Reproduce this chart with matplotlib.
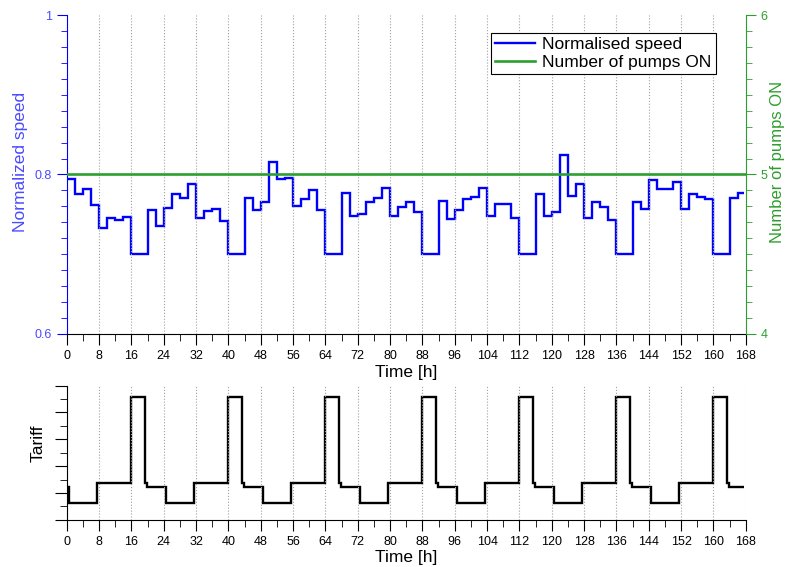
import matplotlib
matplotlib.use("Agg")
import matplotlib.pyplot as plt
from matplotlib.ticker import MultipleLocator

plt.rcParams['font.family'] = ['Liberation Sans', 'DejaVu Sans']

# Normalised speed, 2 h steps
speed_edges = [0, 2, 4, 6, 8, 10, 12, 14, 16, 20, 22, 24, 26, 28, 30, 32, 34, 36, 38, 40,
               44, 46, 48, 50, 52, 54, 56, 58, 60, 62, 64, 68, 70, 72, 74, 76, 78, 80,
               82, 84, 86, 88, 92, 94, 96, 98, 100, 102, 104, 106, 110, 112, 116, 118,
               120, 122, 124, 126, 128, 130, 132, 134, 136, 140, 142, 144, 146, 150,
               152, 154, 156, 158, 160, 164, 166, 167.5]
speed = [0.794, 0.776, 0.782, 0.762, 0.733, 0.745, 0.743, 0.747, 0.700, 0.756, 0.736,
         0.758, 0.776, 0.771, 0.788, 0.745, 0.754, 0.757, 0.742, 0.700,
         0.770, 0.756, 0.766, 0.816, 0.794, 0.796, 0.761, 0.769, 0.780, 0.756, 0.700,
         0.777, 0.748, 0.751, 0.766, 0.771, 0.783,
         0.748, 0.759, 0.766, 0.753, 0.700, 0.767, 0.744, 0.756, 0.769, 0.772, 0.783,
         0.748, 0.763, 0.745, 0.700, 0.776, 0.748,
         0.753, 0.825, 0.773, 0.788, 0.746, 0.765, 0.759, 0.743, 0.700, 0.766, 0.757,
         0.793, 0.782, 0.791, 0.757, 0.776, 0.772, 0.769, 0.700, 0.771, 0.777]

pumps_t = [0, 168]
pumps_on = [5, 5]

# Tariff profile
tariff_edges = [0, 0.5, 7.5, 16, 19.25, 19.75,
                24.5, 31.5, 40, 43.25, 43.75,
                48.5, 55.5, 64, 67.25, 67.75,
                72.5, 79.5, 88, 91.25, 91.75,
                96.5, 103.5, 112, 115.25, 115.75,
                120.5, 127.5, 136, 139.25, 139.75,
                144.5, 151.5, 160, 163.25, 163.75, 167.5]
tariff = [1.22,
          0.62, 1.37, 4.56, 1.37, 1.22,
          0.62, 1.37, 4.56, 1.37, 1.22,
          0.62, 1.37, 4.56, 1.37, 1.22,
          0.62, 1.37, 4.56, 1.37, 1.22,
          0.62, 1.37, 4.56, 1.37, 1.22,
          0.62, 1.37, 4.56, 1.37, 1.22,
          0.62, 1.37, 4.56, 1.37, 1.22]

xticks = list(range(0, 169, 8))

blue = '#0000ff'
lblue = '#4a4aff'
green = '#2e9e2e'

fig = plt.figure(figsize=(7.85, 5.67), dpi=100)
ax1 = fig.add_axes([0.085, 0.411, 0.865, 0.5625])
ax2 = ax1.twinx()
ax3 = fig.add_axes([0.085, 0.0834, 0.865, 0.2364])

# top plot
ax1.stairs(speed, speed_edges, baseline=None, color=blue, lw=1.7, label='Normalised speed')
ax2.plot(pumps_t, pumps_on, color=green, lw=1.9, label='Number of pumps ON')
ax1.set_xlim(0, 168)
ax1.set_ylim(0.6, 1.0)
ax2.set_ylim(4, 6)
ax1.set_xticks(xticks)
ax1.xaxis.set_minor_locator(MultipleLocator(4))
ax1.set_yticks([0.6, 0.8, 1.0])
ax1.set_yticklabels(['0.6', '0.8', '1'])
ax1.yaxis.set_minor_locator(MultipleLocator(0.02))
ax2.set_yticks([4, 5, 6])
ax2.yaxis.set_minor_locator(MultipleLocator(0.1))
ax1.grid(axis='x', which='major', linestyle=':', color='#a0a0a0', lw=0.8)

for s in ['top', 'right']:
    ax1.spines[s].set_visible(False)
for s in ['top', 'left', 'bottom']:
    ax2.spines[s].set_visible(False)
ax1.spines['left'].set_color(blue)
ax2.spines['right'].set_color(green)

ax1.tick_params(axis='x', which='major', direction='out', length=8, labelsize=9)
ax1.tick_params(axis='x', which='minor', direction='out', length=5)
ax1.tick_params(axis='y', which='major', direction='out', length=7, color=blue,
                labelcolor=lblue, labelsize=9)
ax1.tick_params(axis='y', which='minor', direction='out', length=4, color=blue)
ax2.tick_params(axis='y', which='major', direction='out', length=7, color=green,
                labelcolor=green, labelsize=9)
ax2.tick_params(axis='y', which='minor', direction='out', length=4, color=green)

ax1.set_xlabel('Time [h]', fontsize=12.5, labelpad=2)
ax1.set_ylabel('Normalized speed', color=lblue, fontsize=12.5)
ax1.yaxis.set_label_coords(-0.057, 0.54)
ax2.set_ylabel('Number of pumps ON', color=green, fontsize=12)
ax2.yaxis.set_label_coords(1.035, 0.54)

h1, l1 = ax1.get_legend_handles_labels()
h2, l2 = ax2.get_legend_handles_labels()
leg = ax2.legend(h1 + h2, l1 + l2, loc='upper right', bbox_to_anchor=(0.956, 0.944),
                 fontsize=12.5, fancybox=False, framealpha=1, edgecolor='black',
                 borderpad=0.25, handlelength=2.3, handletextpad=0.4,
                 labelspacing=0.15, borderaxespad=0)
leg.get_frame().set_linewidth(0.8)

# bottom plot
ax3.stairs(tariff, tariff_edges, baseline=None, color='black', lw=1.7)
ax3.set_xlim(0, 168)
ax3.set_ylim(0, 5)
ax3.set_xticks(xticks)
ax3.xaxis.set_minor_locator(MultipleLocator(4))
ax3.set_yticks(range(6))
ax3.set_yticklabels([])
ax3.yaxis.set_minor_locator(MultipleLocator(0.5))
ax3.grid(axis='x', which='major', linestyle=':', color='#a0a0a0', lw=0.8)
for s in ['top', 'right']:
    ax3.spines[s].set_visible(False)
ax3.tick_params(axis='x', which='major', direction='out', length=8, labelsize=9)
ax3.tick_params(axis='x', which='minor', direction='out', length=5)
ax3.tick_params(axis='y', which='major', direction='out', length=9)
ax3.tick_params(axis='y', which='minor', direction='out', length=5)
ax3.set_xlabel('Time [h]', fontsize=12.5, labelpad=2)
ax3.set_ylabel('Tariff', fontsize=12.5)
ax3.yaxis.set_label_coords(-0.031, 0.57)

fig.savefig('out.png', dpi=100)
